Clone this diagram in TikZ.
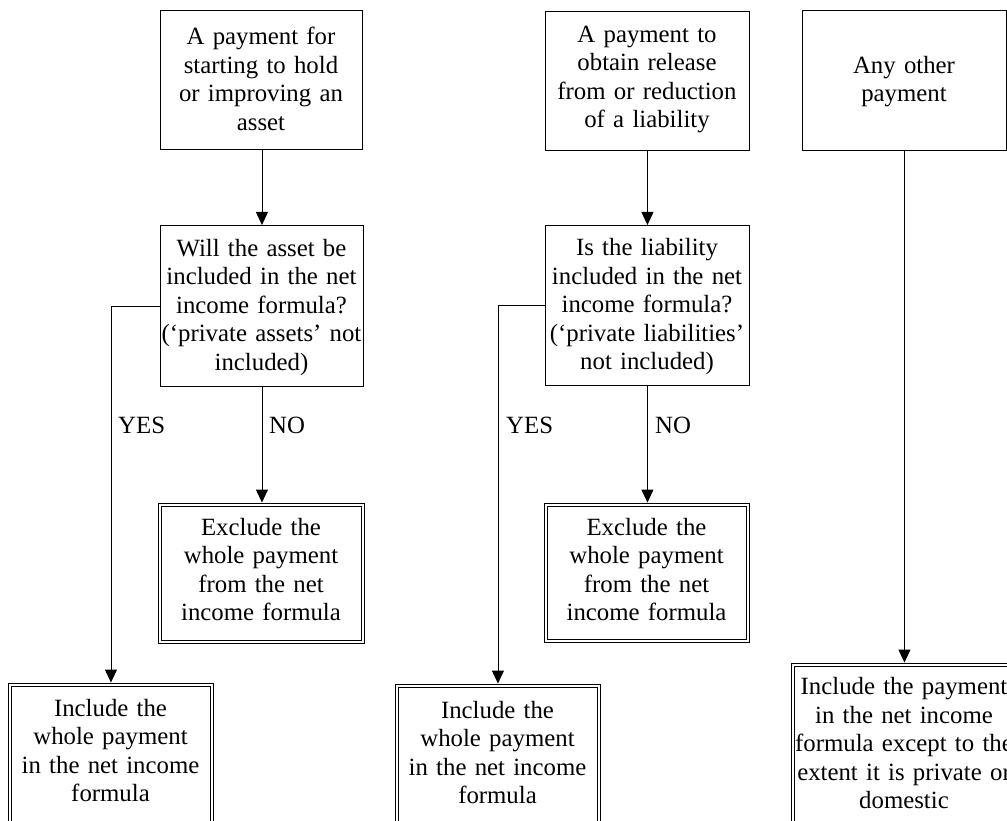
\documentclass[tikz,border=0pt]{standalone}
\usepackage{fontspec}
\setmainfont{Liberation Serif}
\usetikzlibrary{arrows.meta}
\begin{document}
\begin{tikzpicture}[x=1pt,y=-1pt,
  boxa/.style={draw=black,line width=0.9pt,inner sep=0pt,anchor=north west},
  boxd/.style={draw=black,line width=0.9pt,double,double distance=2.4pt,inner sep=0pt,anchor=north west},
  txt/.style={anchor=base,inner sep=0pt,text width=260pt,align=center,font=\fontsize{24.8}{28.45}\selectfont},
  lbl/.style={anchor=base west,inner sep=0pt,font=\fontsize{24.8}{28.45}\selectfont},
  conn/.style={line width=0.9pt},
  arr/.style={conn,-{Triangle[length=13pt,width=12pt]}},
  arrd/.style={arr,shorten >=2.1pt},
]
\useasboundingbox (0,0) rectangle (1007,821);
\clip (0,0) rectangle (1007,821);
\fill[white] (0,0) rectangle (1007,821);

% column 1
\node[boxa,minimum width=202pt,minimum height=139pt] (A1) at (160,10) {};
\node[txt] (A1t) at (261,44.9) {A payment for\\starting to hold\\or improving an\\asset};
\node[boxa,minimum width=203pt,minimum height=161pt] (B1) at (160,225) {};
\node[txt] (B1t) at (261.5,256.5) {Will the asset be\\included in the net\\income formula?\\(‘private assets’ not\\included)};
\node[boxd,minimum width=202.7pt,minimum height=136.7pt] (C1) at (159.65,504.65) {};
\node[txt] (C1t) at (261,535.4) {Exclude the\\whole payment\\from the net\\income formula};
\node[boxd,minimum width=201.7pt,minimum height=160pt] (D1) at (9.65,684.65) {};
\node[txt] (D1t) at (110.5,716.4) {Include the\\whole payment\\in the net income\\formula};

% column 2
\node[boxa,minimum width=204pt,minimum height=139pt] (A2) at (545,11) {};
\node[txt] (A2t) at (647,42.4) {A payment to\\obtain release\\from or reduction\\of a liability};
\node[boxa,minimum width=204pt,minimum height=160pt] (B2) at (545,225) {};
\node[txt] (B2t) at (647,256) {Is the liability\\included in the net\\income formula?\\(‘private liabilities’\\not included)};
\node[boxd,minimum width=201.7pt,minimum height=135.7pt] (C2) at (545.65,504.65) {};
\node[txt] (C2t) at (646.5,535.4) {Exclude the\\whole payment\\from the net\\income formula};
\node[boxd,minimum width=201.7pt,minimum height=160pt] (D2) at (396.65,685.65) {};
\node[txt] (D2t) at (497.5,718.4) {Include the\\whole payment\\in the net income\\formula};

% column 3
\node[boxa,minimum width=204pt,minimum height=140pt] (A3) at (802,10) {};
\node[txt] (A3t) at (904,73.3) {Any other\\payment};
\node[boxd,minimum width=222.7pt,minimum height=180pt] (D3) at (792.65,664.65) {};
\node[txt] (D3t) at (904,694.7) {Include the payment\\in the net income\\formula except to the\\extent it is private or\\domestic};

% labels
\node[lbl] (Y1) at (118,433) {YES};
\node[lbl] (N1) at (269,433) {NO};
\node[lbl] (Y2) at (506,433) {YES};
\node[lbl] (N2) at (655,433) {NO};

% connectors
\draw[arr] (A1.south -| B1.north) -- (B1.north);
\draw[arrd] (B1.south) -- (B1.south |- C1.north);
\draw[arrd] (B1.west) -| (D1.north);
\draw[arr] (A2.south) -- (B2.north);
\draw[arrd] (B2.south) -- (B2.south |- C2.north);
\draw[arrd] (B2.west) -| (D2.north);
\draw[arrd] (A3.south) -- (D3.north);
\end{tikzpicture}
\end{document}
